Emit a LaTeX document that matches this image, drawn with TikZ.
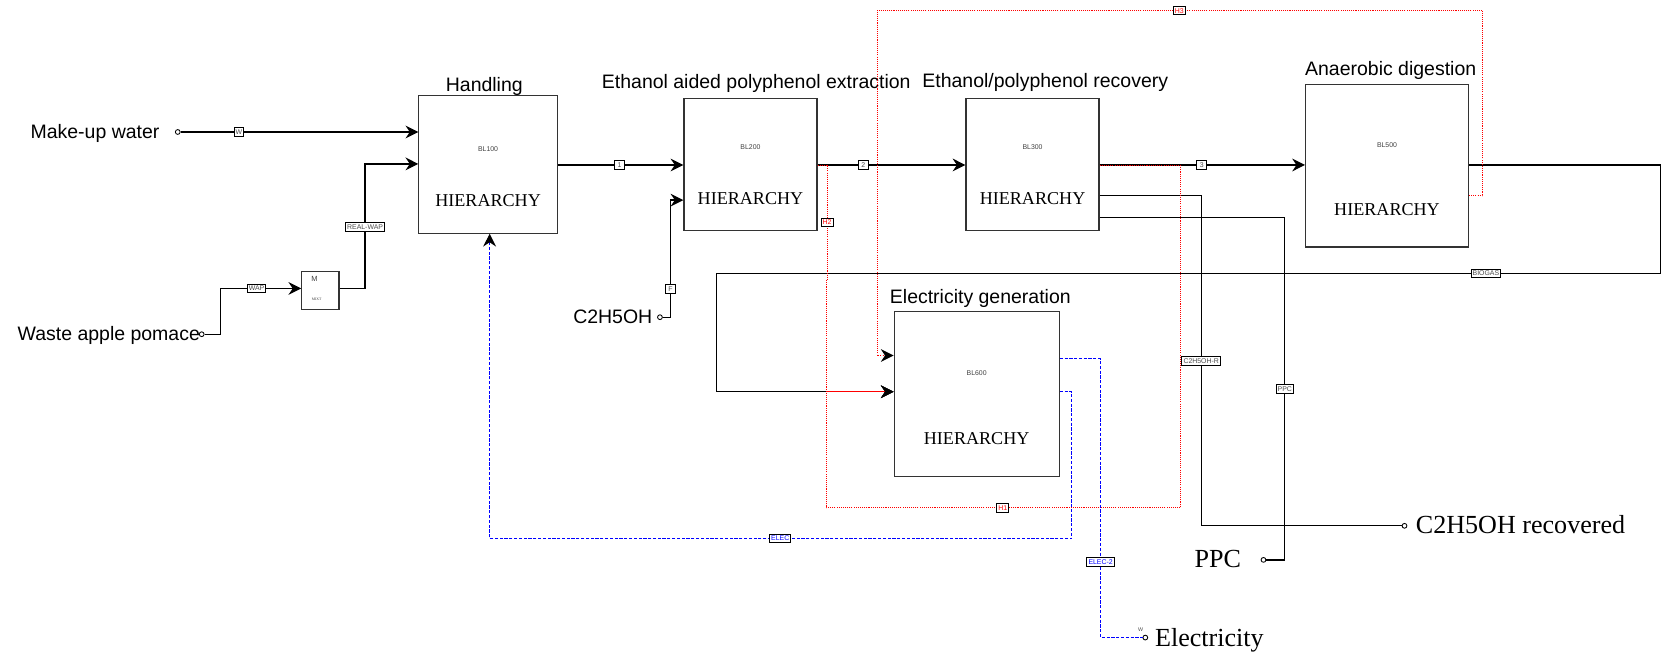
\documentclass[tikz,border=0pt]{standalone}
\usepackage{fontspec}
\setmainfont{Liberation Serif}
\setsansfont{Liberation Sans}
\usetikzlibrary{arrows.meta}
\begin{document}
\begin{tikzpicture}[x=1pt,y=-1pt,
  blk/.style={draw=black!80, line width=1.1pt, fill=white, inner sep=0pt, anchor=north west},
  titletext/.style={font=\sffamily\fontsize{18.3}{20}\selectfont, anchor=base, inner sep=0pt},
  intext/.style={font=\sffamily\fontsize{18.3}{20}\selectfont, inner sep=0pt},
  outtext/.style={font=\rmfamily\fontsize{24.5}{26}\selectfont, inner sep=0pt},
  hier/.style={font=\rmfamily\fontsize{17}{19}\selectfont, inner sep=0pt},
  blname/.style={font=\sffamily\fontsize{6.5}{7}\selectfont, text=black!75, inner sep=0pt},
  slab/.style={draw=black, fill=white, line width=0.9pt, inner xsep=1.5pt, inner ysep=0.8pt,
    minimum width=9pt, minimum height=8pt, font=\sffamily\fontsize{6.5}{7}\selectfont, text=black!70},
  hlab/.style={slab, text=red},
  wlab/.style={slab, text=blue},
  port/.style={circle, draw=black, fill=white, line width=0.8pt, inner sep=0pt, minimum size=4.5pt},
  mat/.style={draw=black, line width=1.2pt},
  heat/.style={draw=red, line width=0.9pt, dash pattern=on 1pt off 1pt},
  work/.style={draw=blue, line width=1pt, dash pattern=on 3pt off 1.5pt},
  arr/.style={-{Stealth[length=12pt,width=12pt,inset=4pt,color=black]}}
]
\useasboundingbox (0,0) rectangle (1568,618);

% ---------- blocks ----------
\node[blk, minimum width=130pt, minimum height=129.5pt] (b100) at (393,89) {};
\node[blk, minimum width=125pt, minimum height=124pt] (b200) at (642,92) {};
\node[blk, minimum width=125pt, minimum height=124pt] (b300) at (907,92) {};
\node[blk, minimum width=153pt, minimum height=152.5pt] (b500) at (1226,79) {};
\node[blk, minimum width=155pt, minimum height=155pt] (b600) at (839.5,292) {};
\node[blk, line width=1pt, minimum width=35pt, minimum height=35.5pt] (mixt) at (283,254.5) {};

% block texts
\node[blname] (n100) at (b100.center |- 0,140) {BL100};
\node[hier] (h100) at (b100.center |- 0,188) {HIERARCHY};
\node[blname] (n200) at (b200.center |- 0,138.5) {BL200};
\node[hier] (h200) at (b200.center |- 0,187) {HIERARCHY};
\node[blname] (n300) at (b300.center |- 0,138.5) {BL300};
\node[hier] (h300) at (b300.center |- 0,187) {HIERARCHY};
\node[blname] (n500) at (b500.center |- 0,136.5) {BL500};
\node[hier] (h500) at (b500.center |- 0,196.5) {HIERARCHY};
\node[blname] (n600) at (b600.center |- 0,350.5) {BL600};
\node[hier] (h600) at (b600.center |- 0,412.5) {HIERARCHY};
\node[font=\sffamily\fontsize{7}{8}\selectfont, text=black!75, inner sep=0pt] (mm) at (295.5,262.5) {M};
\node[font=\rmfamily\fontsize{3.5}{4}\selectfont, text=black!75, inner sep=0pt] (mmx) at (297.5,281) {MIXT};

% titles
\node[titletext] (t100) at (455,85.5) {Handling};
\node[titletext] (t200) at (710.5,83) {Ethanol aided polyphenol extraction};
\node[titletext] (t300) at (982,82.5) {Ethanol/polyphenol recovery};
\node[titletext] (t500) at (1306.5,70.5) {Anaerobic digestion};
\node[titletext] (t600) at (921,285.5) {Electricity generation};

% ---------- terminals ----------
\node[intext, anchor=base east] (tmw) at (150,130) {Make-up water};
\node[intext, anchor=base east] (twap) at (188,319.5) {Waste apple pomace};
\node[intext, anchor=base east] (teth) at (613,304) {C2H5OH};
\node[outtext, anchor=base west] (tcr) at (1330,501) {C2H5OH recovered};
\node[outtext, anchor=base east] (tppc) at (1166,533.5) {PPC};
\node[outtext, anchor=base west] (tel) at (1085,607) {Electricity};
\node[font=\sffamily\fontsize{5}{6}\selectfont, inner sep=0pt, text=black!70] (tw) at (1071.5,592) {W};

% ---------- material streams ----------
\node[port] (pmw) at (167,124) {};
\draw[mat, arr] (pmw) -- (b100.west |- pmw);
\node[port] (pwap) at (189.5,314) {};
\draw[mat, arr] (pwap) -| (207,271) -- (mixt.west |- 0,271);
\draw[mat, arr] (mixt.east |- 0,271) -| (343,154) -- (b100.west |- 0,154);
\draw[mat, arr] (b100.east |- 0,155) -- (b200.west |- 0,155);
\node[port] (pf) at (620,298) {};
\draw[mat, arr] (pf) -| (630,188) -- (b200.west |- 0,188);
\draw[mat, arr] (b200.east |- 0,155) -- (b300.west |- 0,155);
\draw[mat, arr] (b300.east |- 0,155) -- (b500.west |- 0,155);
\draw[mat, arr] (b500.east |- 0,155) -- (1560,155) -- (1560,257) -- (673,257) -- (673,368) -- (b600.west |- 0,368);
\node[port] (pcr) at (1319.5,494) {};
\draw[mat] (b300.east |- 0,184) -| (1129,494) -- (pcr);
\node[port] (pppc) at (1187,526) {};
\draw[mat] (b300.east |- 0,204) -| (1207,526) -- (pppc);

% ---------- heat streams ----------
\draw[heat, arr] (b200.east |- 0,155) -- (777,155) -- (777,263) -- (776,263) -- (776,368) -- (b600.west |- 0,368);
\draw[heat, arr] (b300.east |- 0,155) -- (1109,155) -- (1109,477) -- (776,477) -- (776,368) -- (b600.west |- 0,368);
\draw[heat, arr] (b500.east |- 0,184) -- (1393,184) -- (1393,9.5) -- (824,9.5) -- (824,334) -- (b600.west |- 0,334);

% ---------- work streams ----------
\draw[work, arr] (b600.east |- 0,368) -- (1007,368) -- (1007,506) -- (460,506) -- (b100.south -| 460,0);
\node[port] (pel) at (1076,599) {};
\draw[work] (b600.east |- 0,337) -- (1034,337) -- (1034,599) -- (pel);

% ---------- stream labels ----------
\node[slab] (lw) at (224.5,124) {W};
\node[slab] (lwap) at (241,271) {WAP};
\node[slab] (lrw) at (343,213) {REAL-WAP};
\node[slab] (l1) at (582,155) {1};
\node[slab] (lf) at (630,271.5) {F};
\node[slab] (l2) at (811,155) {2};
\node[slab] (l3) at (1129,155) {3};
\node[slab] (lbio) at (1396,257) {BIOGAS};
\node[slab] (lcr) at (1128.5,339) {C2H5OH-R};
\node[slab] (lppc) at (1207,365.5) {PPC};
\node[hlab] (lh2) at (777,209) {H2};
\node[hlab] (lh1) at (942,477) {H1};
\node[hlab] (lh3) at (1108,10) {H3};
\node[wlab] (lel) at (733,506) {ELEC};
\node[wlab] (lel2) at (1034,528) {ELEC-2};
\end{tikzpicture}
\end{document}
